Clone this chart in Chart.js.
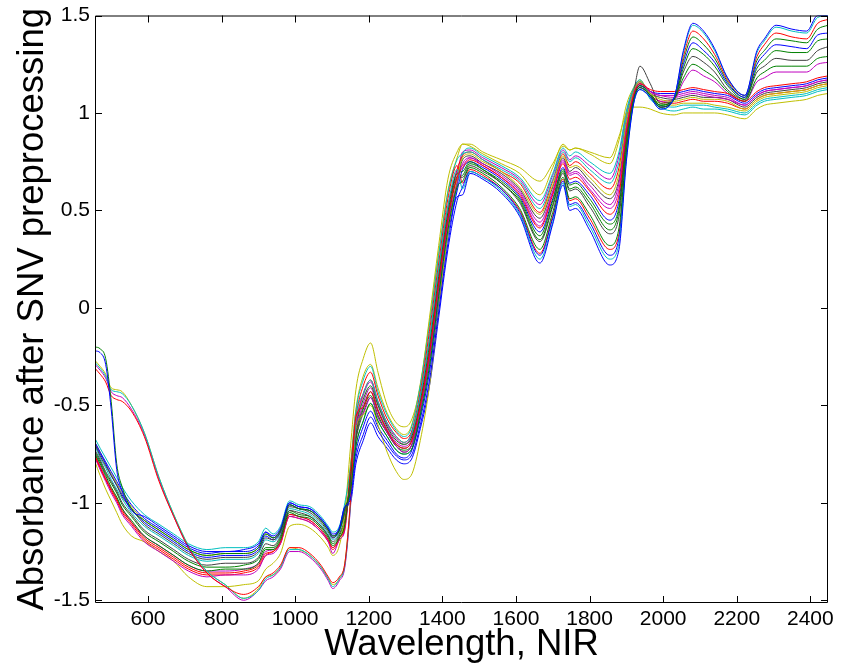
<!DOCTYPE html>
<html>
<head>
<meta charset="utf-8">
<title>Absorbance after SNV preprocessing</title>
<script src="https://cdn.jsdelivr.net/npm/chart.js@4.4.1/dist/chart.umd.min.js"></script>
<style>
  html, body { margin: 0; padding: 0; background: #fff; }
  canvas { display: block; }
</style>
</head>
<body>
<canvas id="myChart" width="849" height="670"></canvas>
<script>
// wavelengths (nm) the spectra were read at
const wavelengths = [456, 470, 485, 500, 515, 530, 555,
    590, 630, 670, 710, 760, 810, 860, 900, 920, 940, 960, 985, 1010, 1040, 1070, 1090, 1102, 1120, 1135,
    1150, 1165, 1185, 1205, 1225, 1250, 1275, 1295, 1315, 1340, 1365, 1390, 1415, 1440,
    1455, 1475, 1510, 1560, 1610, 1665, 1700, 1728, 1746, 1762, 1800, 1855, 1880, 1900, 1920, 1937, 1965, 1992,
    2030, 2055, 2081, 2110, 2140, 2175, 2222, 2255, 2275, 2307, 2350, 2390, 2420, 2448];

const xTicks = [600, 800, 1000, 1200, 1400, 1600, 1800, 2000, 2200, 2400];
const xTickLabels = ['600', '800', '1000', '1200', '1400', '1600', '1800', '2000', '2200', '2400'];
const yTicks = [-1.5, -1, -0.5, 0, 0.5, 1, 1.5];
const yTickLabels = ['-1.5', '-1', '-0.5', '0', '0.5', '1', '1.5'];

// one array per sample spectrum
const s01 = [-0.22, -0.23, -0.29, -0.52, -0.83, -0.94, -1.04,
    -1.07, -1.12, -1.17, -1.22, -1.25, -1.25, -1.24, -1.21, -1.15, -1.17, -1.13, -1.00, -1.02, -1.03, -1.08, -1.13, -1.16, -1.13, -1.02,
    -0.98, -0.77, -0.65, -0.56, -0.63, -0.70, -0.76, -0.78, -0.76, -0.60, -0.37, -0.02, 0.33, 0.57,
    0.58, 0.69, 0.66, 0.59, 0.47, 0.23, 0.43, 0.63, 0.50, 0.51, 0.40, 0.22, 0.30, 0.75, 1.05, 1.12, 1.08, 1.02,
    1.08, 1.32, 1.46, 1.42, 1.33, 1.18, 1.09, 1.32, 1.38, 1.45, 1.43, 1.42, 1.50, 1.50];
const s02 = [-0.20, -0.21, -0.26, -0.48, -0.80, -0.92, -1.03,
    -1.09, -1.14, -1.19, -1.24, -1.27, -1.26, -1.26, -1.23, -1.16, -1.18, -1.14, -1.01, -1.03, -1.04, -1.09, -1.14, -1.17, -1.14, -1.03,
    -0.94, -0.71, -0.58, -0.49, -0.58, -0.66, -0.73, -0.75, -0.73, -0.55, -0.30, 0.06, 0.40, 0.62,
    0.65, 0.72, 0.69, 0.62, 0.51, 0.30, 0.49, 0.67, 0.56, 0.57, 0.48, 0.32, 0.41, 0.81, 1.07, 1.13, 1.09, 1.03,
    1.07, 1.23, 1.33, 1.30, 1.24, 1.14, 1.07, 1.23, 1.27, 1.32, 1.31, 1.31, 1.37, 1.38];
const s03 = [-0.31, -0.34, -0.38, -0.45, -0.47, -0.48, -0.53,
    -0.66, -0.89, -1.07, -1.23, -1.36, -1.43, -1.47, -1.43, -1.38, -1.36, -1.32, -1.23, -1.23, -1.26, -1.32, -1.38, -1.41, -1.38, -1.31,
    -1.00, -0.56, -0.51, -0.43, -0.53, -0.63, -0.70, -0.72, -0.69, -0.50, -0.23, 0.13, 0.46, 0.67,
    0.72, 0.76, 0.73, 0.67, 0.58, 0.41, 0.58, 0.74, 0.66, 0.67, 0.60, 0.48, 0.58, 0.90, 1.09, 1.15, 1.12, 1.11,
    1.11, 1.12, 1.13, 1.12, 1.11, 1.10, 1.06, 1.11, 1.13, 1.14, 1.15, 1.16, 1.18, 1.19];
const s04 = [-0.28, -0.31, -0.35, -0.42, -0.43, -0.44, -0.50,
    -0.64, -0.87, -1.06, -1.22, -1.35, -1.42, -1.49, -1.45, -1.39, -1.37, -1.33, -1.24, -1.24, -1.27, -1.33, -1.39, -1.43, -1.39, -1.32,
    -1.02, -0.58, -0.44, -0.37, -0.48, -0.59, -0.66, -0.69, -0.65, -0.45, -0.16, 0.20, 0.52, 0.71,
    0.61, 0.70, 0.67, 0.60, 0.48, 0.25, 0.44, 0.64, 0.52, 0.53, 0.42, 0.25, 0.33, 0.76, 1.05, 1.12, 1.08, 1.02,
    1.08, 1.31, 1.45, 1.41, 1.32, 1.18, 1.09, 1.31, 1.37, 1.44, 1.42, 1.41, 1.49, 1.50];
const s05 = [-0.29, -0.32, -0.36, -0.43, -0.45, -0.46, -0.52,
    -0.65, -0.88, -1.07, -1.23, -1.36, -1.43, -1.50, -1.45, -1.40, -1.38, -1.34, -1.25, -1.25, -1.28, -1.34, -1.40, -1.44, -1.40, -1.33,
    -1.03, -0.60, -0.54, -0.46, -0.56, -0.64, -0.71, -0.74, -0.71, -0.52, -0.26, 0.09, 0.43, 0.64,
    0.74, 0.77, 0.74, 0.68, 0.60, 0.44, 0.60, 0.76, 0.69, 0.70, 0.63, 0.53, 0.64, 0.92, 1.10, 1.15, 1.11, 1.09,
    1.08, 1.09, 1.10, 1.09, 1.08, 1.07, 1.04, 1.09, 1.11, 1.12, 1.13, 1.14, 1.16, 1.17];
const s06 = [-0.27, -0.30, -0.34, -0.41, -0.42, -0.43, -0.50,
    -0.64, -0.87, -1.06, -1.22, -1.35, -1.42, -1.49, -1.44, -1.38, -1.37, -1.33, -1.23, -1.24, -1.27, -1.33, -1.39, -1.42, -1.39, -1.31,
    -1.00, -0.62, -0.55, -0.50, -0.60, -0.74, -0.84, -0.88, -0.86, -0.68, -0.40, 0.00, 0.38, 0.66,
    0.77, 0.79, 0.75, 0.70, 0.62, 0.48, 0.63, 0.78, 0.72, 0.73, 0.67, 0.58, 0.69, 0.95, 1.11, 1.16, 1.10, 1.07,
    1.06, 1.07, 1.08, 1.07, 1.07, 1.06, 1.02, 1.07, 1.09, 1.10, 1.11, 1.12, 1.14, 1.15];
const s07 = [-0.70, -0.76, -0.81, -0.86, -0.91, -0.97, -1.03,
    -1.11, -1.16, -1.21, -1.26, -1.29, -1.28, -1.28, -1.25, -1.18, -1.19, -1.15, -1.02, -1.03, -1.05, -1.10, -1.15, -1.18, -1.14, -1.05,
    -0.90, -0.65, -0.51, -0.43, -0.53, -0.63, -0.70, -0.72, -0.69, -0.50, -0.23, 0.13, 0.46, 0.67,
    0.67, 0.73, 0.70, 0.64, 0.54, 0.34, 0.52, 0.69, 0.60, 0.61, 0.52, 0.38, 0.47, 0.84, 1.10, 1.24, 1.15, 1.05,
    1.07, 1.21, 1.29, 1.26, 1.21, 1.12, 1.07, 1.21, 1.24, 1.28, 1.27, 1.27, 1.32, 1.34];
const s08 = [-0.69, -0.74, -0.79, -0.84, -0.89, -0.94, -1.01,
    -1.08, -1.13, -1.18, -1.23, -1.26, -1.25, -1.25, -1.22, -1.15, -1.18, -1.14, -1.00, -1.02, -1.03, -1.08, -1.13, -1.17, -1.13, -1.02,
    -1.00, -0.80, -0.68, -0.59, -0.66, -0.72, -0.78, -0.80, -0.78, -0.62, -0.40, -0.05, 0.30, 0.55,
    0.62, 0.70, 0.67, 0.61, 0.49, 0.27, 0.46, 0.65, 0.53, 0.54, 0.44, 0.27, 0.36, 0.78, 1.06, 1.13, 1.09, 1.03,
    1.08, 1.25, 1.36, 1.32, 1.26, 1.15, 1.08, 1.25, 1.30, 1.35, 1.34, 1.33, 1.40, 1.41];
const s09 = [-0.75, -0.80, -0.86, -0.92, -0.97, -1.03, -1.09,
    -1.17, -1.22, -1.27, -1.32, -1.35, -1.34, -1.34, -1.31, -1.24, -1.24, -1.19, -1.05, -1.07, -1.08, -1.13, -1.18, -1.22, -1.18, -1.11,
    -0.88, -0.62, -0.47, -0.40, -0.50, -0.61, -0.68, -0.70, -0.67, -0.48, -0.19, 0.16, 0.49, 0.69,
    0.70, 0.75, 0.71, 0.65, 0.56, 0.37, 0.55, 0.71, 0.63, 0.64, 0.56, 0.43, 0.52, 0.87, 1.08, 1.14, 1.10, 1.04,
    1.07, 1.18, 1.25, 1.22, 1.18, 1.11, 1.06, 1.18, 1.21, 1.24, 1.24, 1.24, 1.28, 1.29];
const s10 = [-0.76, -0.82, -0.88, -0.93, -0.98, -1.04, -1.10,
    -1.18, -1.23, -1.28, -1.33, -1.36, -1.36, -1.35, -1.32, -1.26, -1.25, -1.20, -1.06, -1.07, -1.09, -1.14, -1.19, -1.23, -1.18, -1.12,
    -0.84, -0.56, -0.40, -0.33, -0.45, -0.57, -0.64, -0.67, -0.64, -0.43, -0.12, 0.23, 0.56, 0.73,
    0.64, 0.71, 0.68, 0.61, 0.50, 0.28, 0.47, 0.66, 0.55, 0.56, 0.46, 0.30, 0.38, 0.79, 1.06, 1.13, 1.09, 1.03,
    1.08, 1.29, 1.42, 1.38, 1.30, 1.17, 1.09, 1.29, 1.35, 1.41, 1.39, 1.38, 1.46, 1.48];
const s11 = [-0.67, -0.72, -0.77, -0.82, -0.87, -0.92, -0.99,
    -1.06, -1.11, -1.16, -1.21, -1.24, -1.23, -1.23, -1.20, -1.13, -1.16, -1.12, -0.99, -1.01, -1.02, -1.07, -1.12, -1.15, -1.12, -1.00,
    -0.82, -0.53, -0.37, -0.30, -0.43, -0.55, -0.63, -0.66, -0.62, -0.40, -0.09, 0.27, 0.59, 0.76,
    0.79, 0.80, 0.76, 0.71, 0.65, 0.51, 0.66, 0.80, 0.75, 0.77, 0.71, 0.64, 0.75, 0.98, 1.12, 1.16, 1.08, 1.03,
    1.01, 1.02, 1.03, 1.02, 1.02, 1.01, 0.99, 1.04, 1.06, 1.07, 1.08, 1.09, 1.11, 1.12];
const s12 = [-0.77, -0.83, -0.89, -0.95, -1.00, -1.06, -1.12,
    -1.20, -1.25, -1.30, -1.35, -1.38, -1.37, -1.37, -1.34, -1.27, -1.26, -1.21, -1.07, -1.08, -1.10, -1.15, -1.20, -1.26, -1.19, -1.14,
    -0.87, -0.61, -0.45, -0.38, -0.49, -0.60, -0.67, -0.70, -0.66, -0.46, -0.17, 0.18, 0.51, 0.70,
    0.73, 0.77, 0.73, 0.67, 0.59, 0.42, 0.59, 0.75, 0.68, 0.69, 0.61, 0.51, 0.61, 0.91, 1.09, 1.15, 1.11, 1.06,
    1.07, 1.16, 1.22, 1.19, 1.16, 1.10, 1.06, 1.16, 1.18, 1.21, 1.21, 1.21, 1.25, 1.26];
const s13 = [-0.79, -0.86, -0.93, -0.99, -1.05, -1.11, -1.17,
    -1.20, -1.25, -1.30, -1.38, -1.43, -1.43, -1.42, -1.40, -1.34, -1.31, -1.26, -1.12, -1.11, -1.13, -1.18, -1.23, -1.27, -1.22, -1.05,
    -0.72, -0.42, -0.26, -0.18, -0.33, -0.50, -0.59, -0.61, -0.58, -0.40, -0.05, 0.32, 0.66, 0.80,
    0.84, 0.84, 0.80, 0.76, 0.72, 0.65, 0.74, 0.83, 0.81, 0.82, 0.80, 0.77, 0.88, 1.00, 1.03, 1.03, 1.02, 1.00,
    0.99, 1.00, 1.00, 1.00, 1.00, 0.99, 0.97, 1.02, 1.04, 1.05, 1.06, 1.07, 1.09, 1.10];
const s14 = [-0.73, -0.78, -0.84, -0.89, -0.94, -1.00, -1.06,
    -1.14, -1.19, -1.24, -1.29, -1.32, -1.31, -1.31, -1.28, -1.21, -1.22, -1.17, -1.04, -1.05, -1.07, -1.12, -1.17, -1.20, -1.16, -1.08,
    -0.92, -0.68, -0.54, -0.46, -0.56, -0.64, -0.71, -0.74, -0.71, -0.52, -0.26, 0.09, 0.43, 0.64,
    0.76, 0.78, 0.74, 0.69, 0.61, 0.46, 0.62, 0.77, 0.70, 0.72, 0.65, 0.56, 0.66, 0.94, 1.11, 1.15, 1.10, 1.08,
    1.07, 1.08, 1.09, 1.08, 1.08, 1.07, 1.03, 1.08, 1.10, 1.11, 1.12, 1.13, 1.15, 1.16];
const s15 = [-0.70, -0.75, -0.80, -0.86, -0.91, -0.96, -1.03,
    -1.10, -1.15, -1.20, -1.25, -1.28, -1.27, -1.27, -1.24, -1.17, -1.19, -1.15, -1.01, -1.03, -1.04, -1.09, -1.14, -1.18, -1.14, -1.04,
    -0.96, -0.74, -0.61, -0.53, -0.61, -0.68, -0.75, -0.77, -0.74, -0.57, -0.33, 0.02, 0.37, 0.60,
    0.71, 0.75, 0.72, 0.66, 0.57, 0.39, 0.56, 0.72, 0.64, 0.65, 0.58, 0.45, 0.55, 0.88, 1.09, 1.14, 1.11, 1.10,
    1.10, 1.11, 1.12, 1.11, 1.10, 1.09, 1.05, 1.10, 1.12, 1.13, 1.14, 1.15, 1.17, 1.18];
const s16 = [-0.74, -0.79, -0.85, -0.90, -0.95, -1.01, -1.07,
    -1.15, -1.20, -1.25, -1.30, -1.33, -1.33, -1.32, -1.29, -1.23, -1.23, -1.18, -1.04, -1.06, -1.07, -1.12, -1.17, -1.21, -1.17, -1.09,
    -0.92, -0.67, -0.52, -0.45, -0.55, -0.64, -0.71, -0.73, -0.71, -0.53, -0.26, 0.10, 0.44, 0.66,
    0.68, 0.74, 0.71, 0.64, 0.55, 0.35, 0.53, 0.70, 0.61, 0.62, 0.54, 0.40, 0.50, 0.85, 1.08, 1.14, 1.10, 1.04,
    1.08, 1.27, 1.39, 1.35, 1.28, 1.16, 1.08, 1.27, 1.32, 1.38, 1.37, 1.36, 1.43, 1.45];
const s17 = [-0.76, -0.82, -0.88, -0.94, -0.99, -1.05, -1.11,
    -1.19, -1.24, -1.29, -1.34, -1.37, -1.37, -1.36, -1.33, -1.27, -1.25, -1.21, -1.07, -1.08, -1.10, -1.15, -1.20, -1.24, -1.19, -1.13,
    -0.86, -0.59, -0.44, -0.37, -0.48, -0.59, -0.66, -0.69, -0.65, -0.45, -0.16, 0.20, 0.52, 0.71,
    0.78, 0.80, 0.76, 0.70, 0.64, 0.49, 0.65, 0.79, 0.73, 0.75, 0.69, 0.61, 0.72, 0.97, 1.12, 1.16, 1.09, 1.06,
    1.05, 1.06, 1.07, 1.06, 1.06, 1.05, 1.02, 1.07, 1.09, 1.10, 1.11, 1.12, 1.14, 1.15];
const s18 = [-0.71, -0.77, -0.82, -0.88, -0.93, -0.98, -1.05,
    -1.12, -1.17, -1.22, -1.27, -1.30, -1.29, -1.29, -1.26, -1.19, -1.20, -1.16, -1.03, -1.04, -1.06, -1.11, -1.16, -1.19, -1.15, -1.06,
    -0.94, -0.71, -0.58, -0.49, -0.58, -0.66, -0.73, -0.75, -0.73, -0.55, -0.30, 0.06, 0.40, 0.62,
    0.79, 0.82, 0.78, 0.73, 0.67, 0.55, 0.69, 0.82, 0.78, 0.80, 0.75, 0.69, 0.80, 1.01, 1.13, 1.17, 1.07, 1.04,
    1.03, 1.04, 1.04, 1.04, 1.03, 1.02, 1.00, 1.05, 1.07, 1.08, 1.09, 1.10, 1.12, 1.13];
const s19 = [-0.75, -0.81, -0.87, -0.93, -0.98, -1.03, -1.10,
    -1.17, -1.22, -1.27, -1.32, -1.35, -1.35, -1.34, -1.31, -1.25, -1.24, -1.20, -1.06, -1.07, -1.09, -1.14, -1.19, -1.23, -1.18, -1.11,
    -0.89, -0.64, -0.49, -0.41, -0.52, -0.62, -0.69, -0.71, -0.68, -0.49, -0.21, 0.14, 0.48, 0.68,
    0.80, 0.81, 0.77, 0.72, 0.66, 0.53, 0.68, 0.81, 0.76, 0.78, 0.73, 0.66, 0.78, 1.00, 1.12, 1.16, 1.11, 1.09,
    1.09, 1.10, 1.11, 1.10, 1.09, 1.08, 1.04, 1.09, 1.11, 1.12, 1.13, 1.14, 1.16, 1.17];
const s20 = [-0.69, -0.74, -0.80, -0.85, -0.90, -0.95, -1.02,
    -1.09, -1.14, -1.19, -1.24, -1.27, -1.26, -1.26, -1.23, -1.16, -1.18, -1.14, -1.01, -1.03, -1.04, -1.09, -1.14, -1.17, -1.14, -1.03,
    -0.81, -0.52, -0.35, -0.29, -0.41, -0.54, -0.62, -0.65, -0.61, -0.39, -0.07, 0.28, 0.60, 0.77,
    0.84, 0.83, 0.79, 0.74, 0.69, 0.58, 0.72, 0.84, 0.81, 0.82, 0.79, 0.74, 0.86, 1.04, 1.13, 1.17, 1.08, 1.05,
    1.04, 1.05, 1.05, 1.05, 1.04, 1.03, 1.01, 1.06, 1.08, 1.09, 1.10, 1.11, 1.13, 1.14];

const spectra = [s01, s02, s03, s04, s05, s06, s07, s08, s09, s10,
    s11, s12, s13, s14, s15, s16, s17, s18, s19, s20];

// old matlab colour order: b g r c m y k
const lineColors = ['#0000ff', '#008000', '#ff0000', '#00bfbf', '#bf00bf', '#bfbf00', '#404040'];

const FONT = 'Arial, "Liberation Sans", Helvetica, sans-serif';
Chart.defaults.font.family = FONT;
Chart.defaults.color = '#000';

// box round the plot with inward ticks on all four sides
const matlabBox = {
    id: 'matlabBox',
    afterDatasetsDraw(chart) {
        const { ctx, chartArea, scales } = chart;
        const { left, right, top, bottom } = chartArea;
        const len = 7;
        ctx.save();
        ctx.strokeStyle = '#000';
        ctx.lineWidth = 1;
        ctx.beginPath();
        ctx.rect(left + 0.5, top + 0.5, right - left - 1, bottom - top - 1);
        xTicks.forEach(v => {
            const px = Math.round(scales.x.getPixelForValue(v)) + 0.5;
            ctx.moveTo(px, bottom); ctx.lineTo(px, bottom - len);
            ctx.moveTo(px, top); ctx.lineTo(px, top + len);
        });
        yTicks.forEach(v => {
            const py = Math.round(scales.y.getPixelForValue(v)) + 0.5;
            ctx.moveTo(left, py); ctx.lineTo(left + len, py);
            ctx.moveTo(right, py); ctx.lineTo(right - len, py);
        });
        ctx.stroke();
        ctx.restore();
    }
};

document.addEventListener('DOMContentLoaded', function () {
    let ctx = document.getElementById('myChart').getContext('2d');

    new Chart(ctx, {
        type: 'line',
        data: {
            datasets: spectra.map((s, i) => ({
                data: wavelengths.map((w, j) => ({ x: w, y: s[j] })),
                borderColor: lineColors[i % lineColors.length],
                borderWidth: 1,
                pointRadius: 0,
                cubicInterpolationMode: 'monotone',
                fill: false
            }))
        },
        options: {
            responsive: false,
            animation: false,
            devicePixelRatio: 1,
            layout: {
                padding: { left: 0, right: 21, top: 14, bottom: 0 }
            },
            plugins: {
                legend: { display: false },
                tooltip: { enabled: false }
            },
            scales: {
                x: {
                    type: 'linear',
                    min: 456,
                    max: 2448,
                    grid: { display: false, drawTicks: false },
                    border: { display: false },
                    afterBuildTicks: scale => { scale.ticks = xTicks.map(v => ({ value: v })); },
                    afterFit: scale => { scale.height = 67; },
                    ticks: {
                        autoSkip: false,
                        maxRotation: 0,
                        padding: 6,
                        color: '#000',
                        font: { size: 21, lineHeight: 1 },
                        callback: (value, index) => xTickLabels[index]
                    },
                    title: {
                        display: true,
                        text: 'Wavelength, NIR',
                        color: '#000',
                        font: { size: 36.5 },
                        padding: { top: 0, bottom: 3 }
                    }
                },
                y: {
                    type: 'linear',
                    min: -1.514,
                    max: 1.5,
                    grid: { display: false, drawTicks: false },
                    border: { display: false },
                    afterBuildTicks: scale => { scale.ticks = yTicks.map(v => ({ value: v })); },
                    afterFit: scale => { scale.width = 95; },
                    ticks: {
                        autoSkip: false,
                        padding: 5,
                        color: '#000',
                        font: { size: 21, lineHeight: 1 },
                        callback: (value, index) => yTickLabels[index]
                    },
                    title: {
                        display: true,
                        text: 'Absorbance after SNV preprocessing',
                        color: '#000',
                        font: { size: 36.5 },
                        padding: { top: 11, bottom: 0 }
                    }
                }
            }
        },
        plugins: [matlabBox]
    });
});
</script>
</body>
</html>
